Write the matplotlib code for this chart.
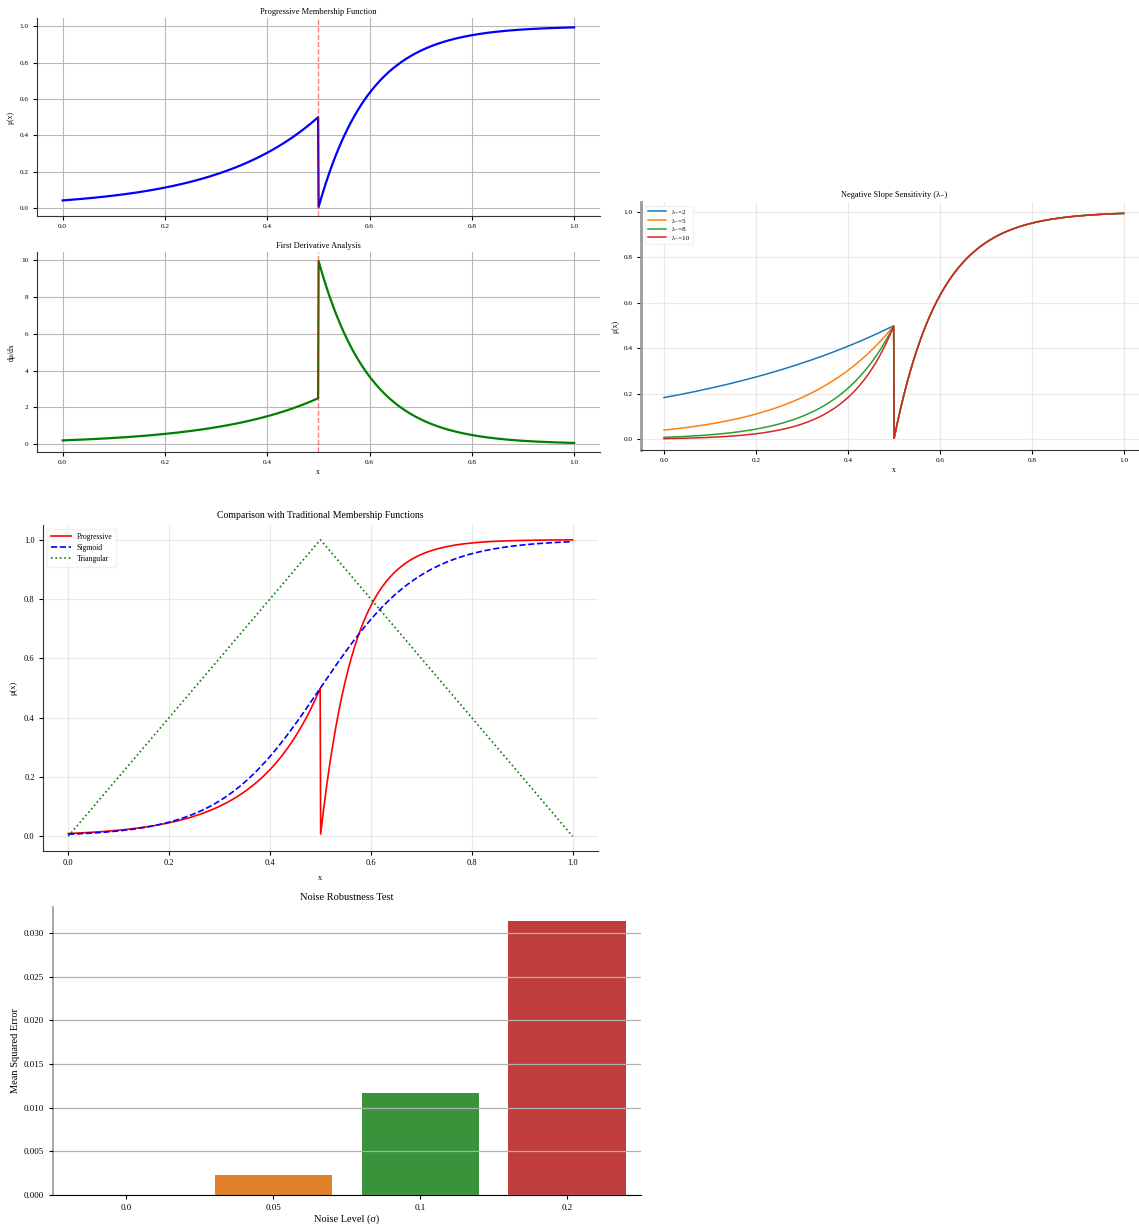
import numpy as np
import matplotlib
matplotlib.use("Agg")
import matplotlib.pyplot as plt

plt.rcParams['font.family'] = ['Liberation Serif', 'DejaVu Serif']
plt.rcParams['axes.unicode_minus'] = False

# membership function parameters
center = 0.5
lam_neg = 5
lam_pos = 10
lam_neg_values = [2, 5, 8, 10]
sens_colors = ['#1f77b4', '#ff7f0e', '#2ca02c', '#d62728']
cmp_lam_neg = 8
cmp_lam_pos = 15
sigmoid_slope = 10

# noise test results
noise_levels = ['0.0', '0.05', '0.1', '0.2']
mse_values = [0.00001, 0.0023, 0.0117, 0.0314]
bar_colors = ['#3274a1', '#e1812c', '#3a923a', '#c03d3e']

x = np.linspace(0, 1, 1000)


def progressive(x, ln, lp, c=center):
    left = 0.5 * np.exp(ln * (x - c))
    right = 1 - np.exp(-lp * (x - c))
    return np.where(x < c, left, right)


def d_progressive(x, ln, lp, c=center):
    left = 0.5 * ln * np.exp(ln * (x - c))
    right = lp * np.exp(-lp * (x - c))
    return np.where(x < c, left, right)


def style(ax, grid_alpha=1.0, grid_color='#b8b8b8', ts=5):
    ax.spines['top'].set_visible(False)
    ax.spines['right'].set_visible(False)
    ax.spines['left'].set_color('#333333')
    ax.spines['bottom'].set_color('#333333')
    ax.grid(True, color=grid_color, alpha=grid_alpha, linewidth=0.8)
    ax.set_axisbelow(True)
    ax.tick_params(labelsize=ts, length=3, width=0.8, pad=3)


fig = plt.figure(figsize=(11.39, 12.27), dpi=100)

# progressive function
ax1 = fig.add_axes([0.0325, 0.824, 0.494, 0.161])
style(ax1, ts=5.2)
ax1.plot(x, progressive(x, lam_neg, lam_pos), color='blue', linewidth=1.6)
ax1.axvline(center, color='red', linestyle='--', alpha=0.5, linewidth=1)
ax1.set_title("Progressive Membership Function", fontsize=6, pad=3)
ax1.set_ylabel("μ(x)", fontsize=5.5, labelpad=4)

# first derivative
ax2 = fig.add_axes([0.0325, 0.6316, 0.494, 0.163])
style(ax2, ts=5.2)
ax2.plot(x, d_progressive(x, lam_neg, lam_pos), color='green', linewidth=1.6)
ax2.axvline(center, color='red', linestyle='--', alpha=0.5, linewidth=1)
ax2.set_title("First Derivative Analysis", fontsize=6, pad=3)
ax2.set_ylabel("dμ/dx", fontsize=5.5, labelpad=4)
ax2.set_xlabel("x", fontsize=5.5, labelpad=2)

# sensitivity to lambda-
ax3 = fig.add_axes([0.5628, 0.6333, 0.444, 0.202])
style(ax3, grid_alpha=0.3, ts=5.2)
ax3.spines['left'].set_color('#999999')
ax3.spines['left'].set_linewidth(2)
for ln, col in zip(lam_neg_values, sens_colors):
    ax3.plot(x, progressive(x, ln, lam_pos), color=col, linewidth=1.1,
             label="λ₋=%d" % ln)
ax3.set_title("Negative Slope Sensitivity (λ₋)", fontsize=6, pad=4)
ax3.set_ylabel("μ(x)", fontsize=5.5, labelpad=3)
ax3.set_xlabel("x", fontsize=5.5, labelpad=2)
ax3.legend(loc='upper left', fontsize=5, handlelength=2.6, framealpha=0.8,
           edgecolor='#eeeeee', borderpad=0.5, labelspacing=0.4)

# comparison
ax4 = fig.add_axes([0.0378, 0.3064, 0.487, 0.2657])
style(ax4, grid_alpha=0.3, ts=6)
sigmoid = 1 / (1 + np.exp(-sigmoid_slope * (x - center)))
triangular = np.maximum(0, 1 - np.abs(x - center) / center)
ax4.plot(x, progressive(x, cmp_lam_neg, cmp_lam_pos), 'r-', linewidth=1.2,
         label="Progressive")
ax4.plot(x, sigmoid, 'b--', linewidth=1.2, label="Sigmoid")
ax4.plot(x, triangular, 'g:', linewidth=1.2, label="Triangular")
ax4.set_title("Comparison with Traditional Membership Functions", fontsize=7, pad=5)
ax4.set_ylabel("μ(x)", fontsize=6, labelpad=5)
ax4.set_xlabel("x", fontsize=6, labelpad=5)
ax4.legend(loc='upper left', fontsize=5.5, handlelength=2.6, framealpha=0.8,
           edgecolor='#eeeeee', borderpad=0.5, labelspacing=0.4)

# noise robustness
ax5 = fig.add_axes([0.0465, 0.0261, 0.516, 0.2347])
ax5.spines['top'].set_visible(False)
ax5.spines['right'].set_visible(False)
ax5.spines['left'].set_color('#999999')
ax5.spines['left'].set_linewidth(1.2)
ax5.bar(range(len(noise_levels)), mse_values, width=0.8, color=bar_colors)
ax5.set_xticks(range(len(noise_levels)))
ax5.set_xticklabels(noise_levels)
ax5.set_xlim(-0.5, 3.5)
ax5.grid(True, axis='y', color='#b0b0b0', linewidth=0.9)
ax5.set_axisbelow(False)
ax5.tick_params(labelsize=6.5, length=3, width=0.8)
ax5.set_title("Noise Robustness Test", fontsize=7.5, pad=5)
ax5.set_ylabel("Mean Squared Error", fontsize=7.5, labelpad=3)
ax5.set_xlabel("Noise Level (σ)", fontsize=7.5, labelpad=2)

plt.savefig('out.png', dpi=100)
